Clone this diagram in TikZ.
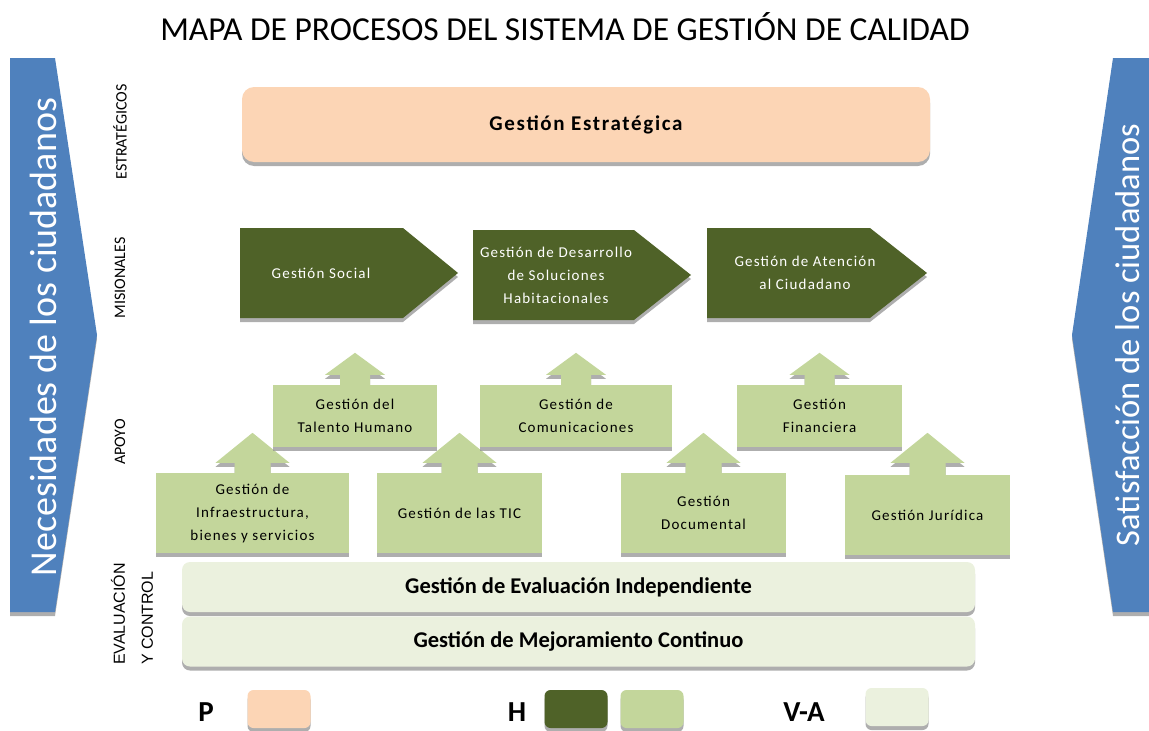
\documentclass[tikz,border=0pt]{standalone}
\usepackage{fontspec}
\setmainfont{Carlito}
\newfontfamily\espaciada[LetterSpace=8.0]{Carlito}
\newfontfamily\arial{Liberation Sans}
\usetikzlibrary{shadows,backgrounds}

\definecolor{azul}{HTML}{4F81BD}
\definecolor{durazno}{HTML}{FCD5B5}
\definecolor{verdeosc}{HTML}{4F6228}
\definecolor{verdeclaro}{HTML}{C3D69B}
\definecolor{verdepalido}{HTML}{EBF1DE}

\tikzset{
  sombra/.style={drop shadow={shadow xshift=0pt,shadow yshift=-4pt,fill=black!45,opacity=0.7}},
  estrategico/.style={rectangle,rounded corners=12pt,fill=durazno,sombra,minimum width=688pt,minimum height=75pt,font=\bfseries\espaciada\fontsize{21}{24}\selectfont},
  misional/.style={fill=verdeosc,sombra},
  txtmisional/.style={text=white,align=center,font=\espaciada\fontsize{15}{23}\selectfont},
  apoyo/.style={rectangle,fill=verdeclaro,sombra,align=center,inner sep=0pt,font=\espaciada\fontsize{15}{23}\selectfont},
  flechaapoyo/.style={fill=verdeclaro,sombra},
  control/.style={rectangle,rounded corners=8pt,fill=verdepalido,sombra,minimum width=793pt,minimum height=50pt,font=\bfseries\fontsize{22.5}{26}\selectfont},
  nivel/.style={rotate=90,font=\fontsize{16}{18}\selectfont},
  lateral/.style={fill=azul,sombra},
  txtlateral/.style={rotate=90,text=white,font=\fontsize{38}{42}\selectfont},
  muestra/.style={rectangle,rounded corners=6pt,sombra,minimum width=63pt,minimum height=38pt},
  letra/.style={font=\bfseries\fontsize{29}{31}\selectfont}
}

% flecha de apoyo: nodo, media cabeza, medio tallo, alto cabeza, alto tallo
\newcommand{\flechaarriba}[5]{%
  \fill[flechaapoyo,shift={(#1.north)}] (-#3pt,-6pt) -- (-#3pt,#5pt) -- (-#2pt,#5pt) -- (0pt,#5pt+#4pt) -- (#2pt,#5pt) -- (#3pt,#5pt) -- (#3pt,-6pt) -- cycle;}

\begin{document}
\begin{tikzpicture}[x=1pt,y=-1pt]
\useasboundingbox (0,0) rectangle (1149,731);

\node (titulo) at (565,27) {\fontsize{33.5}{36}\selectfont MAPA DE PROCESOS DEL SISTEMA DE GESTIÓN DE CALIDAD};

% flechas laterales
\fill[lateral] (10,58) -- (55,58) -- (97,335) -- (55,612) -- (10,612) -- cycle;
\node[txtlateral] (necesidades) at (43,337) {Necesidades de los ciudadanos};
\fill[lateral] (1160,58) -- (1113,58) -- (1072,335) -- (1113,612) -- (1160,612) -- cycle;
\node[txtlateral] (satisfaccion) at (1128,335) {\fontsize{34.5}{38}\selectfont Satisfacción de los ciudadanos};

% niveles
\node[nivel] (estrategicos) at (120,132) {ESTRATÉGICOS};
\node[nivel] (misionales) at (120,278) {MISIONALES};
\node[nivel] (apoyolbl) at (120,442) {APOYO};
\node[nivel,align=left,font=\arial\fontsize{16}{28}\selectfont] (evaluacionlbl) at (132,614) {EVALUACIÓN\\Y CONTROL};

% estrategicos
\node[estrategico] (estrategica) at (586,124.5) {Gestión Estratégica};

% misionales
\fill[misional] (240,228) -- (403,228) -- (458,273) -- (403,318) -- (240,318) -- cycle;
\node[txtmisional] (social) at (321,273) {Gestión Social};
\fill[misional] (473,230) -- (634,230) -- (691,275) -- (634,320) -- (473,320) -- cycle;
\node[txtmisional] (desarrollo) at (556,275) {Gestión de Desarrollo\\de Soluciones\\Habitacionales};
\fill[misional] (707,228) -- (870,228) -- (927,273) -- (870,318) -- (707,318) -- cycle;
\node[txtmisional] (atencion) at (805,273) {Gestión de Atención\\al Ciudadano};

% apoyo
\node[apoyo,minimum width=164pt,minimum height=62pt] (talento) at (355,416) {Gestión del\\Talento Humano};
\node[apoyo,minimum width=192pt,minimum height=62pt] (comunicaciones) at (576,416) {Gestión de\\Comunicaciones};
\node[apoyo,minimum width=165pt,minimum height=62pt] (financiera) at (819.5,416) {Gestión\\Financiera};
\node[apoyo,minimum width=193pt,minimum height=80pt] (infraestructura) at (252.5,513) {Gestión de\\Infraestructura,\\bienes y servicios};
\node[apoyo,minimum width=165pt,minimum height=80pt] (tic) at (459.5,513) {Gestión de las TIC};
\node[apoyo,minimum width=165pt,minimum height=80pt] (documental) at (703.5,513) {Gestión\\Documental};
\node[apoyo,minimum width=165pt,minimum height=80pt] (juridica) at (927.5,515) {Gestión Jurídica};

\begin{scope}[on background layer]
\flechaarriba{talento}{30}{15}{22}{10}
\flechaarriba{comunicaciones}{30}{15}{22}{10}
\flechaarriba{financiera}{30}{15}{22}{10}
\flechaarriba{infraestructura}{37}{18}{30}{10}
\flechaarriba{tic}{37}{18}{30}{10}
\flechaarriba{documental}{37}{18}{30}{10}
\flechaarriba{juridica}{37}{18}{30}{12}
\end{scope}

% evaluacion y control
\node[control] (independiente) at (578.5,587) {Gestión de Evaluación Independiente};
\node[control] (mejoramiento) at (578.5,641.5) {Gestión de Mejoramiento Continuo};

% convenciones
\node[letra] (legP) at (206,712) {P};
\node[muestra,fill=durazno] (muestraP) at (279,709) {};
\node[letra] (legH) at (517,712) {H};
\node[muestra,fill=verdeosc] (muestraH1) at (576,709) {};
\node[muestra,fill=verdeclaro] (muestraH2) at (652,709) {};
\node[letra] (legVA) at (804,712) {V-A};
\node[muestra,fill=verdepalido] (muestraVA) at (897,707) {};
\end{tikzpicture}
\end{document}
